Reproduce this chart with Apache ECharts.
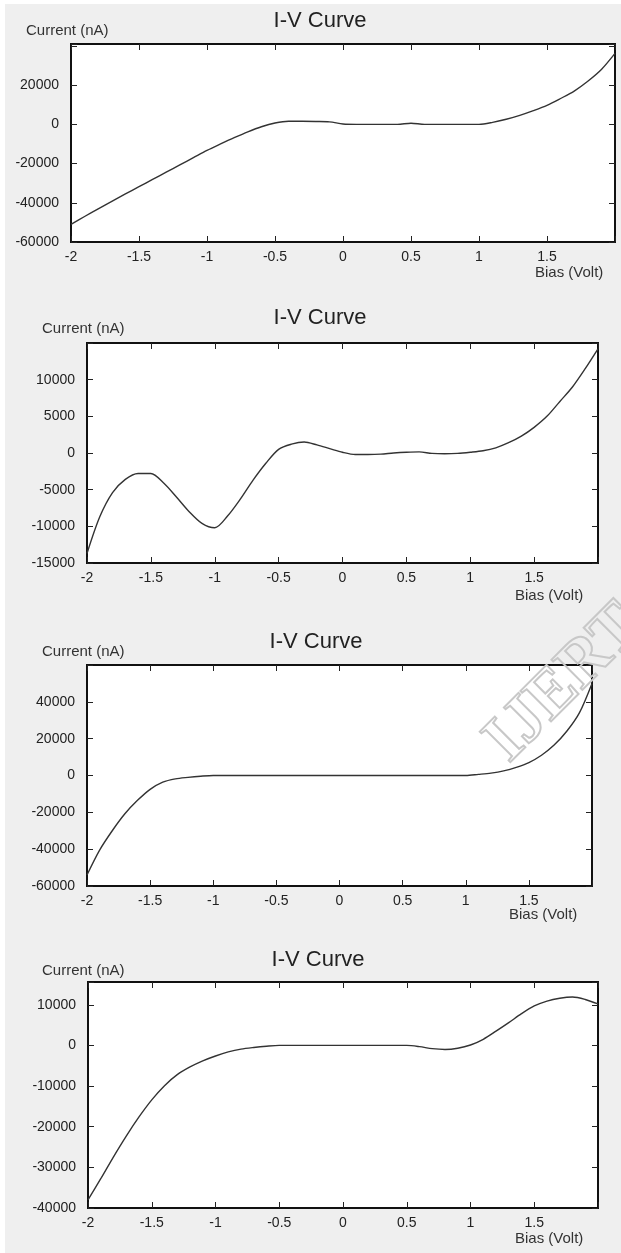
<!DOCTYPE html>
<html>
<head>
<meta charset="utf-8">
<title>I-V Curve</title>
<script src="https://cdn.jsdelivr.net/npm/echarts@6/dist/echarts.min.js"></script>
<style>
  html, body { margin: 0; padding: 0; background: #fff; }
  #main { width: 621px; height: 1253px; background: #efefef; box-shadow: inset 5px 4px 0 #fff; }
</style>
</head>
<body>
<div id="main"></div>
<script>
// bias sweep (V), same for all four measurements
var biasVolt = [-2, -1.9, -1.8, -1.7, -1.6, -1.5, -1.4, -1.3, -1.2, -1.1, -1,
                -0.9, -0.8, -0.7, -0.6, -0.5, -0.4, -0.3, -0.2, -0.1, 0,
                0.1, 0.2, 0.3, 0.4, 0.5, 0.6, 0.7, 0.8, 0.9, 1,
                1.1, 1.2, 1.3, 1.4, 1.5, 1.6, 1.7, 1.8, 1.9, 2];

// current (nA)
var current1 = [-51000, -47000, -43100, -39300, -35500, -31800, -28100, -24400, -20700, -17000, -13300,
                -10000, -6800, -3800, -1200, 700, 1600, 1600, 1500, 1300, 200,
                0, 0, 0, 0, 600, 0, 0, 0, 0, 0,
                1000, 2600, 4600, 7000, 9700, 13200, 17000, 22000, 28000, 36200];
var current2 = [-13700, -8700, -5400, -3600, -2800, -2800, -4100, -6000, -8000, -9600, -10200,
                -8600, -6300, -3700, -1400, 500, 1200, 1500, 1100, 600, 100,
                -200, -200, -150, 0, 100, 150, -50, -100, -50, 100,
                300, 700, 1400, 2300, 3500, 5000, 7000, 9000, 11500, 14200];
var current3 = [-54000, -40500, -30000, -20800, -13500, -7500, -3600, -1800, -1000, -400, 0,
                0, 0, 0, 0, 0, 0, 0, 0, 0, 0,
                0, 0, 0, 0, 0, 0, 0, 0, 0, 0,
                600, 1300, 2500, 4400, 7000, 11000, 16500, 24000, 34000, 50000];
var current4 = [-38000, -32800, -27400, -22300, -17600, -13400, -9900, -7200, -5300, -3800, -2600,
                -1600, -900, -500, -200, 0, 0, 0, 0, 0, 0,
                0, 0, 0, 0, 0, -300, -800, -1000, -700, 100,
                1500, 3500, 5600, 7800, 9700, 10900, 11600, 11900, 11300, 10200];

// tick labels
var xTickLabels = ['-2', '-1.5', '-1', '-0.5', '0', '0.5', '1', '1.5'];
var yTicks1 = [-60000, -40000, -20000, 0, 20000];
var yTicks2 = [-15000, -10000, -5000, 0, 5000, 10000];
var yTicks3 = [-60000, -40000, -20000, 0, 20000, 40000];
var yTicks4 = [-40000, -30000, -20000, -10000, 0, 10000];

var titleText = 'I-V Curve';
var yName = 'Current (nA)';
var xName = 'Bias (Volt)';

// layout of each panel (pixels) and its y scale
var panels = [
  { left: 71, top: 44, width: 544, height: 198, yMin: -60000, yMax: 41000, yStep: 20000,
    titleX: 320, titleY: 21, nameX: 26, nameY: 31, biasX: 535, biasY: 273 },
  { left: 87, top: 343, width: 511, height: 220, yMin: -15000, yMax: 15000, yStep: 5000,
    titleX: 320, titleY: 318, nameX: 42, nameY: 329, biasX: 515, biasY: 596 },
  { left: 87, top: 665, width: 505, height: 221, yMin: -60000, yMax: 60000, yStep: 20000,
    titleX: 316, titleY: 642, nameX: 42, nameY: 652, biasX: 509, biasY: 915 },
  { left: 88, top: 982, width: 510, height: 226, yMin: -40000, yMax: 15600, yStep: 10000,
    titleX: 318, titleY: 960, nameX: 42, nameY: 971, biasX: 515, biasY: 1239 }
];

var ivCurve_lineChart = {
  seriesList: null,
  tickList: null,
  option: null,
  chart: null,
  initData: function (div) {
    this.seriesList = [current1, current2, current3, current4];
    this.tickList = [yTicks1, yTicks2, yTicks3, yTicks4];
    this.chart = echarts.init(div);
    this.option = {
      animation: false,
      grid: [],
      xAxis: [],
      yAxis: [],
      series: [],
      graphic: []
    };
    this.process();
  },
  pairs: function (ys) {
    return biasVolt.map(function (v, i) { return [v, ys[i]]; });
  },
  process: function () {
    var font = '"Liberation Sans", Arial, sans-serif';
    var tick = { inside: true, length: 6, lineStyle: { color: '#222', width: 1 } };
    var opt = this.option;
    var self = this;

    panels.forEach(function (p, i) {
      var ticks = self.tickList[i];
      opt.grid.push({
        left: p.left, top: p.top, width: p.width, height: p.height,
        show: true, backgroundColor: '#fff', borderColor: '#111', borderWidth: 2
      });
      // bottom + top x axes, left + right y axes (ticks inward on all sides)
      ['bottom', 'top'].forEach(function (pos) {
        opt.xAxis.push({
          gridIndex: i, type: 'value', position: pos,
          min: -2, max: 2, interval: 0.5,
          axisLine: { show: false, onZero: false }, splitLine: { show: false },
          axisTick: tick,
          axisLabel: {
            show: pos === 'bottom', margin: 8, color: '#222', fontSize: 14, fontFamily: font,
            formatter: function (v) {
              var s = String(v);
              return xTickLabels.indexOf(s) >= 0 ? s : '';
            }
          }
        });
      });
      ['left', 'right'].forEach(function (pos) {
        opt.yAxis.push({
          gridIndex: i, type: 'value', position: pos,
          min: p.yMin, max: p.yMax, interval: p.yStep,
          axisLine: { show: false, onZero: false }, splitLine: { show: false },
          axisTick: tick,
          axisLabel: {
            show: pos === 'left', margin: 12, color: '#222', fontSize: 14, fontFamily: font,
            formatter: function (v) { return ticks.indexOf(v) >= 0 ? String(v) : ''; }
          }
        });
      });
      opt.series.push({
        type: 'line', xAxisIndex: i * 2, yAxisIndex: i * 2,
        data: self.pairs(self.seriesList[i]),
        showSymbol: false, smooth: 0.3, clip: true,
        lineStyle: { color: '#333', width: 1.4 }
      });
      opt.graphic.push(
        { type: 'text', x: p.titleX, y: p.titleY, silent: true,
          style: { text: titleText, fill: '#222', font: '22px ' + font, align: 'center', verticalAlign: 'middle' } },
        { type: 'text', x: p.nameX, y: p.nameY, silent: true,
          style: { text: yName, fill: '#333', font: '15px ' + font, align: 'left', verticalAlign: 'middle' } },
        { type: 'text', x: p.biasX, y: p.biasY, silent: true,
          style: { text: xName, fill: '#333', font: '15px ' + font, align: 'left', verticalAlign: 'middle' } }
      );
    });

    // faint watermark over the third panel
    opt.graphic.push({
      type: 'text', x: 520, y: 775, rotation: Math.PI / 4, silent: true, z: 100,
      style: { text: 'IJERT', fill: 'rgba(0,0,0,0)', stroke: '#c8c8c8', lineWidth: 2,
               font: 'bold 66px "Liberation Serif", serif', align: 'left', verticalAlign: 'bottom' }
    });

    this.view();
  },
  view: function () {
    this.chart.setOption(this.option, true);
  }
};

ivCurve_lineChart.initData(document.getElementById('main'));
</script>
</body>
</html>
